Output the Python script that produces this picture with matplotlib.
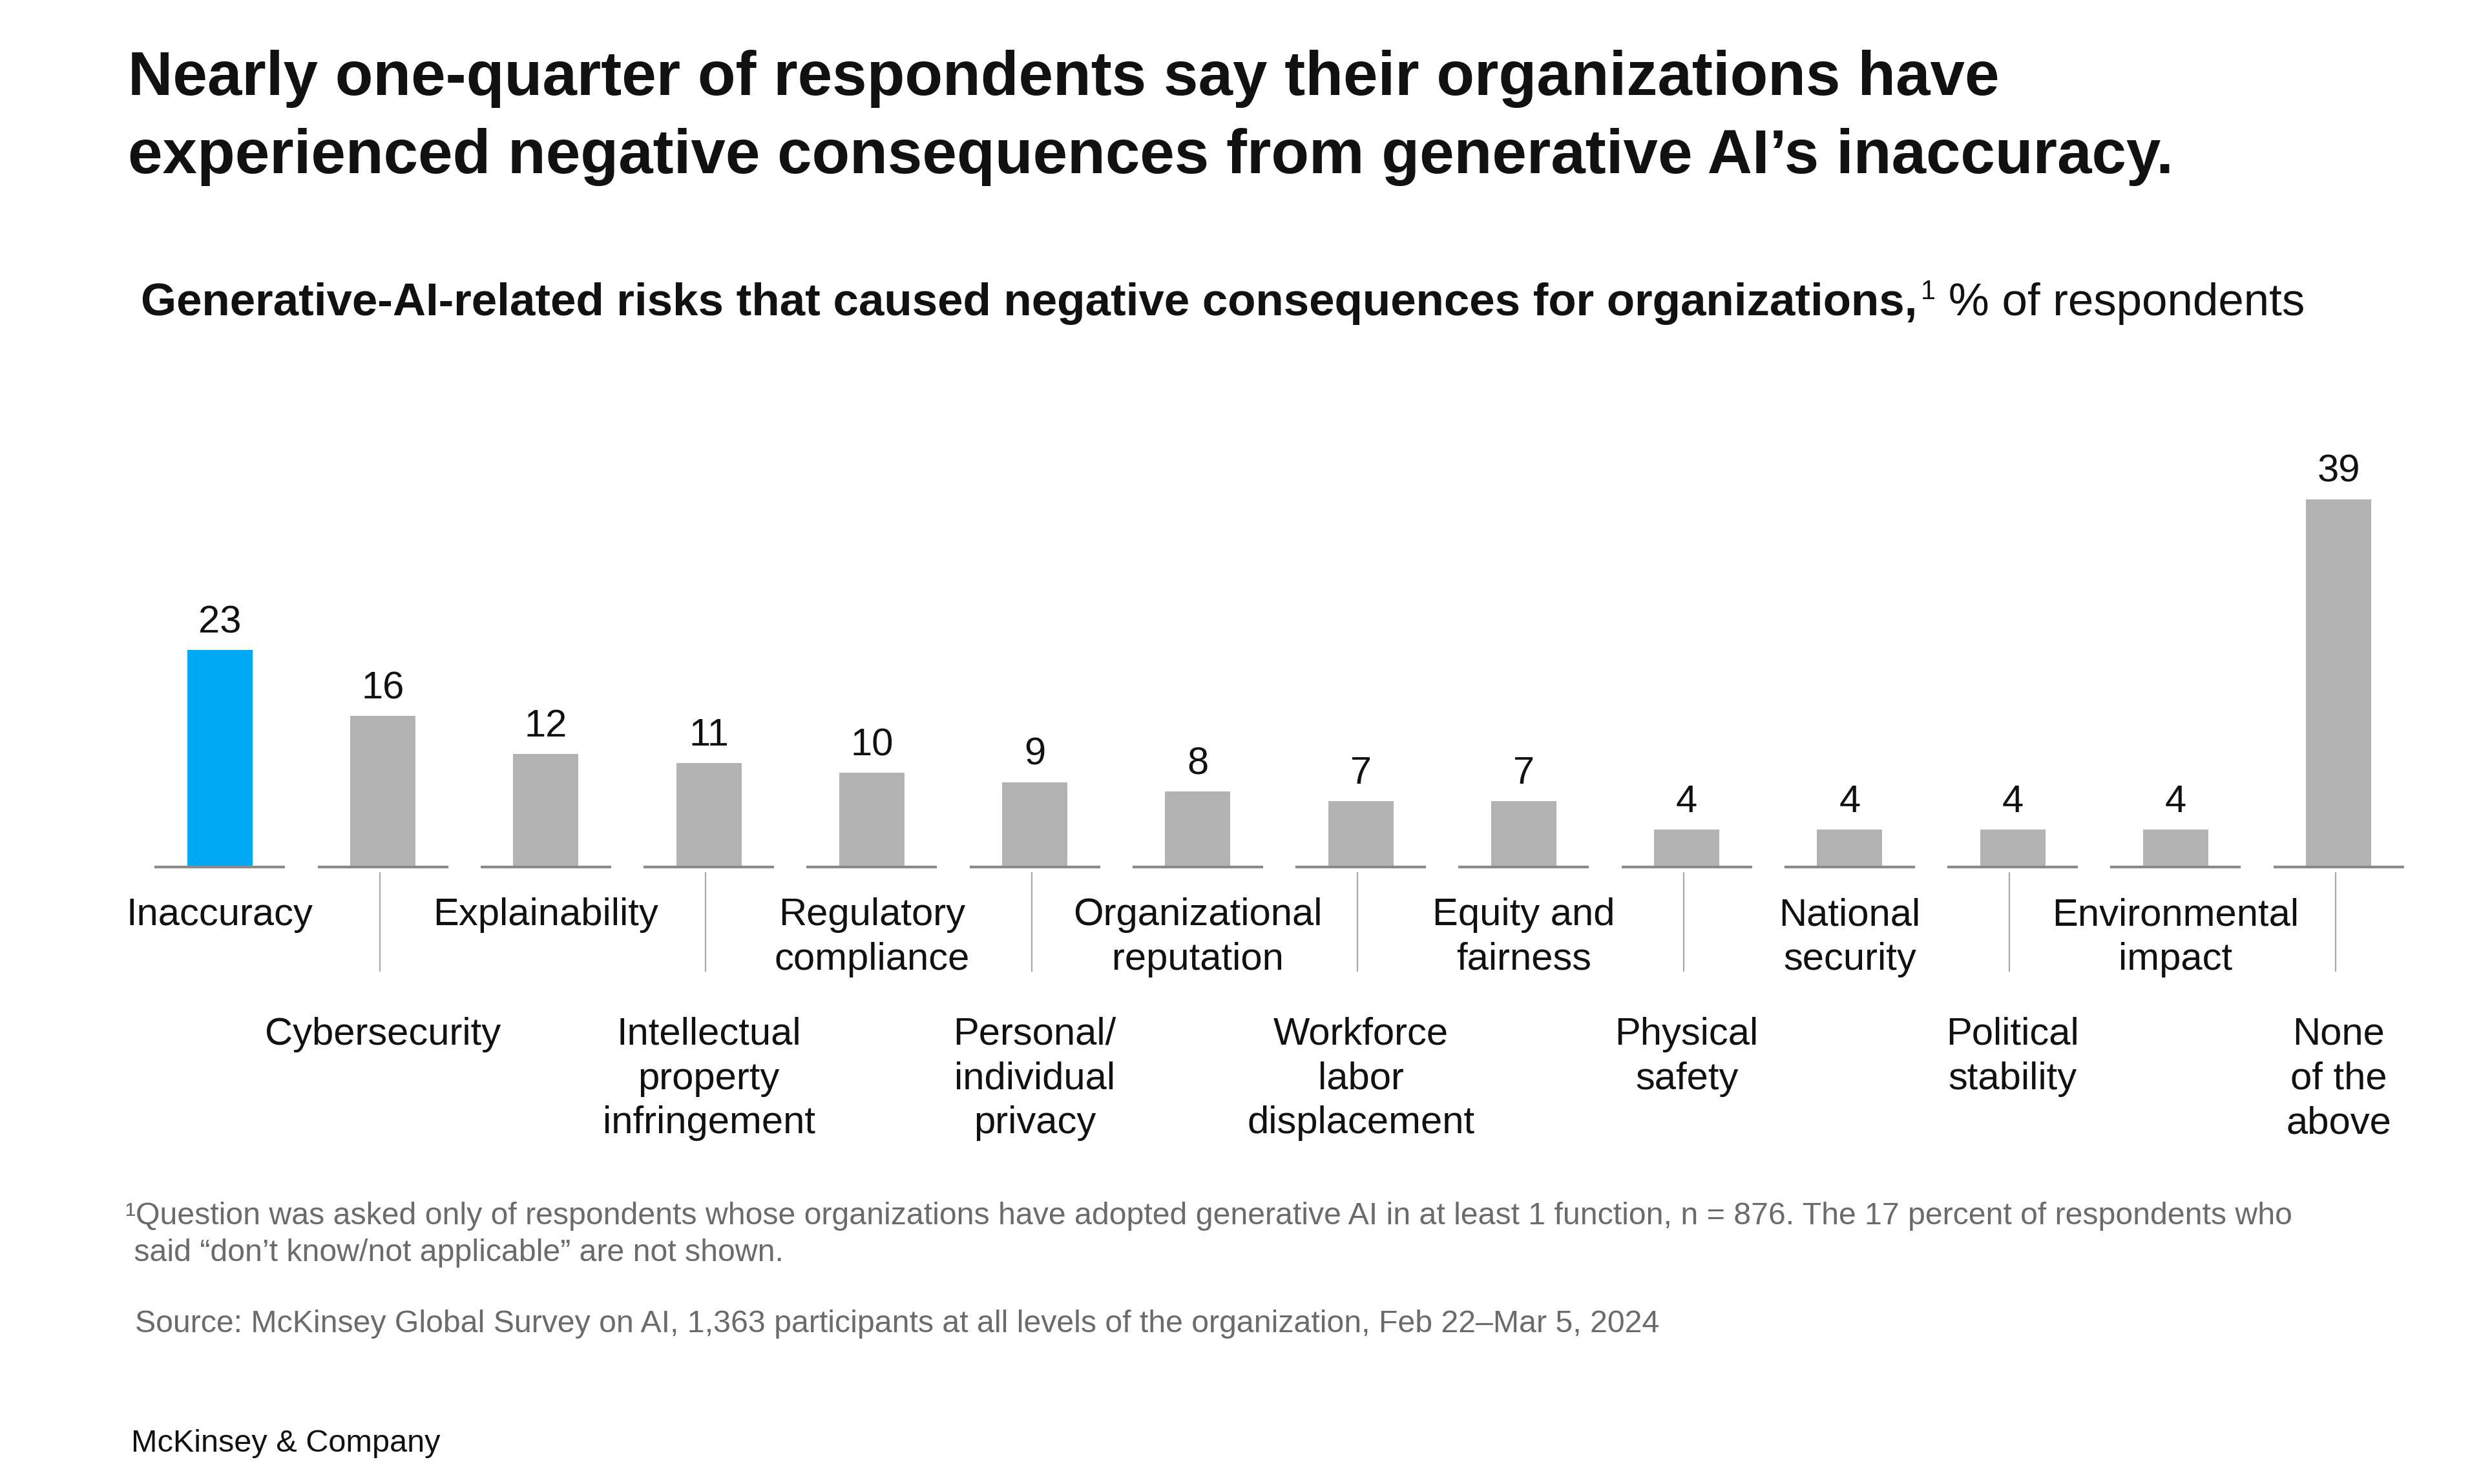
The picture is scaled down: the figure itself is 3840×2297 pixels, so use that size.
import matplotlib
matplotlib.use("Agg")
import matplotlib.pyplot as plt

plt.rcParams['font.family'] = ['Liberation Sans', 'DejaVu Sans']

categories = [
    "Inaccuracy", "Cybersecurity", "Explainability",
    "Intellectual\nproperty\ninfringement", "Regulatory\ncompliance",
    "Personal/\nindividual\nprivacy", "Organizational\nreputation",
    "Workforce\nlabor\ndisplacement", "Equity and\nfairness",
    "Physical\nsafety", "National\nsecurity", "Political\nstability",
    "Environmental\nimpact", "None\nof the\nabove",
]
values = [23, 16, 12, 11, 10, 9, 8, 7, 7, 4, 4, 4, 4, 39]
highlight = "Inaccuracy"

title_lines = [
    "Nearly one-quarter of respondents say their organizations have",
    "experienced negative consequences from generative AI\u2019s inaccuracy.",
]
subtitle_bold = "Generative-AI-related risks that caused negative consequences for organizations,"
subtitle_reg = " % of respondents"
footnote = [
    "\u00b9Question was asked only of respondents whose organizations have adopted "
    "generative AI in at least 1 function, n = 876. The 17 percent of respondents who",
    " said \u201cdon\u2019t know/not applicable\u201d are not shown.",
]
source = ("Source: McKinsey Global Survey on AI, 1,363 participants at all levels "
          "of the organization, Feb 22\u2013Mar 5, 2024")
brand = "McKinsey & Company"

W, H, DPI = 3840, 2297, 200
BLUE = '#00A9F4'
GREY = '#B3B3B3'
INK = '#111111'
NOTE = '#6b6b6b'


def fx(px):
    return px / W


def fy(px):
    return 1 - px / H


fig = plt.figure(figsize=(W / DPI, H / DPI), dpi=DPI)

# title
fig.text(fx(198), fy(147), title_lines[0], fontsize=34.6, fontweight='bold',
         color=INK, va='baseline')
fig.text(fx(198), fy(268), title_lines[1], fontsize=34.6, fontweight='bold',
         color=INK, va='baseline')

# subtitle: bold part, superscript, regular part
sub = fig.text(fx(218), fy(488), subtitle_bold, fontsize=25.5,
               fontweight='bold', color=INK, va='baseline')
sup = fig.text(0, 0, "1", fontsize=15, color=INK, va='top')
rest = fig.text(0, 0, subtitle_reg, fontsize=25.5, color=INK, va='baseline')

# bar area
left_px, right_px = 189, 3771
base_px, top_px = 1342, 685
ymax = 45
ax = fig.add_axes([fx(left_px), 1 - base_px / H,
                   (right_px - left_px) / W, (base_px - top_px) / H])
x = list(range(len(categories)))
colors = [BLUE if c == highlight else GREY for c in categories]
ax.bar(x, values, width=0.4, color=colors, zorder=2)
ax.hlines([0] * len(x), [i - 0.4 for i in x], [i + 0.4 for i in x],
          color='#8a8a8a', lw=1.5, zorder=3, clip_on=False)
ax.set_xlim(-0.6, len(categories) - 0.4)
ax.set_ylim(0, ymax)
ax.axis('off')

unit_px = (base_px - top_px) / ymax
unit_x_px = (right_px - left_px) / len(categories)

for i, (cat, v) in enumerate(zip(categories, values)):
    ax.annotate(str(v), (i, v), xytext=(0, 9.7), textcoords='offset points',
                ha='center', va='baseline', fontsize=21.5, color=INK)
    if i % 2 == 0:
        off = 17
    else:
        off = 83.5
        # leader line for the lower row of labels
        ax.vlines(i - 5 / unit_x_px, -8 / unit_px, -162 / unit_px,
                  color='#a8a8a8', lw=0.8, clip_on=False)
    ax.annotate(cat, (i, 0), xytext=(0, -off), textcoords='offset points',
                ha='center', va='top', fontsize=21.5, color=INK,
                linespacing=1.32)

# footnotes
fig.text(fx(194), fy(1895), footnote[0], fontsize=17.4, color=NOTE,
         va='baseline')
fig.text(fx(194), fy(1952), footnote[1], fontsize=17.4, color=NOTE,
         va='baseline')
fig.text(fx(209), fy(2062), source, fontsize=17.4, color=NOTE, va='baseline')
fig.text(fx(203), fy(2247), brand, fontsize=17.5, color=INK, va='baseline')

# place the superscript and regular text right after the bold subtitle
fig.canvas.draw()
r = fig.canvas.get_renderer()
bb = sub.get_window_extent(r)
sup.set_position((bb.x1 / W + 0.0015, fy(432)))
fig.canvas.draw()
bb2 = sup.get_window_extent(r)
rest.set_position((bb2.x1 / W, fy(488)))

fig.savefig('out.png', dpi=DPI, facecolor='white')
